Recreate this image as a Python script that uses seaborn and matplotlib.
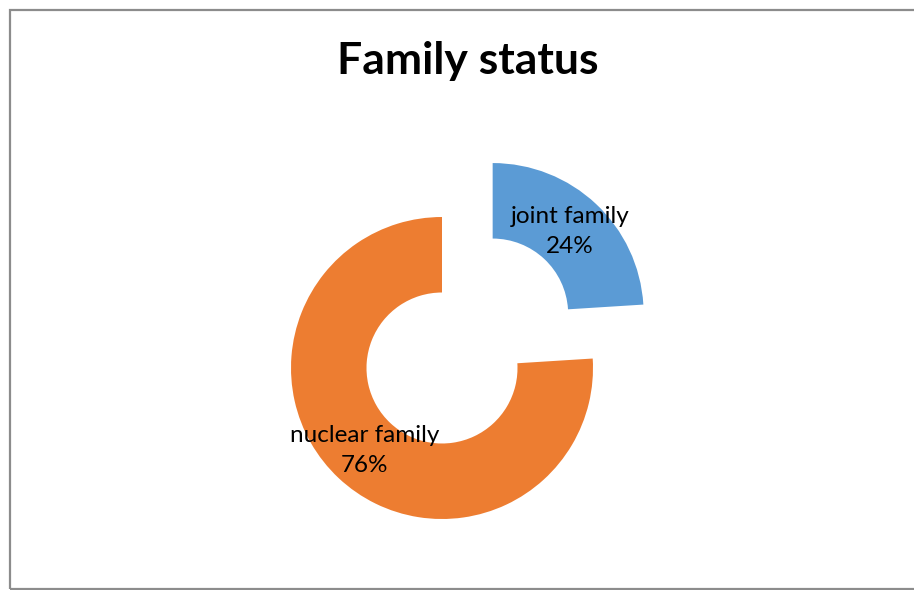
import matplotlib
matplotlib.use("Agg")
import matplotlib.pyplot as plt
import seaborn as sns

# Family status shares (percent)
categories = ["joint family", "nuclear family"]
shares = [24, 76]
colors = ["#5B9BD5", "#ED7D31"]

sns.set_style("white")
plt.rcParams["font.family"] = ["Lato", "DejaVu Sans"]

W, H = 914, 590
fig = plt.figure(figsize=(W / 100, H / 100), dpi=100)
ax = fig.add_axes([0, 0, 1, 1])

radius = 151
center = (442, H - 368)
labels = [f"{c}\n{v}%" for c, v in zip(categories, shares)]

wedges, texts = ax.pie(
    shares,
    labels=labels,
    colors=colors,
    startangle=90,
    counterclock=False,
    radius=radius,
    center=center,
    explode=[74, 0],
    labeldistance=0.75,
    wedgeprops=dict(width=radius * 0.5, linewidth=0),
    frame=True,
)
ax.set_xlim(0, W)
ax.set_ylim(0, H)
ax.set_aspect("equal")
ax.axis("off")
for t in texts:
    t.set_ha("center")
    t.set_va("center")
    t.set_multialignment("center")
    t.set_fontsize(17.5)
    t.set_color("black")
    t.set_linespacing(1.55)

fig.text(468 / W, 1 - 61 / H, "Family status", ha="center", va="center",
         fontsize=32, fontweight="bold", color="black")

# chart border
border = plt.Rectangle((9.5 / W, 1.5 / H), (W - 8) / W, (H - 11) / H,
                       transform=fig.transFigure, fill=False,
                       edgecolor="#8c8c8c", linewidth=1.6)
fig.patches.append(border)

fig.savefig("out.png", dpi=100, facecolor="white")
